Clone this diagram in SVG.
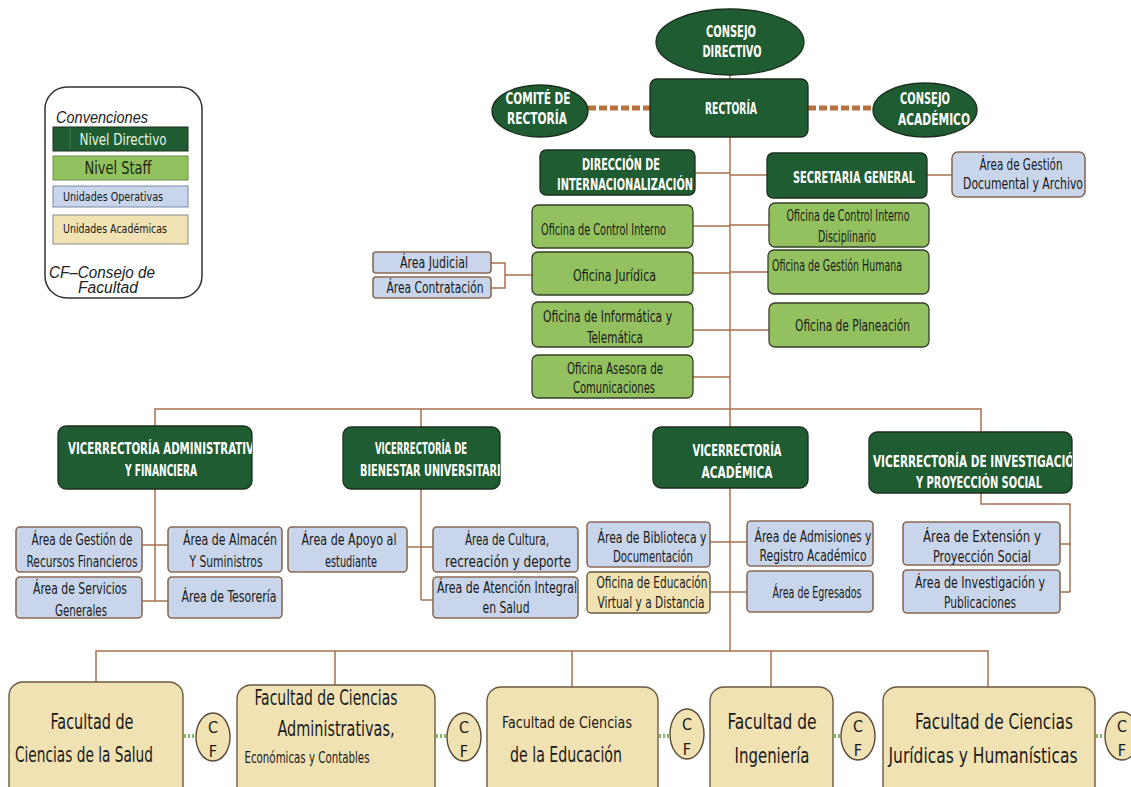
<svg xmlns="http://www.w3.org/2000/svg" width="1131" height="787" viewBox="0 0 1131 787">
<style>
text{font-family:"Liberation Sans Narrow","DejaVu Sans Condensed","Liberation Sans",sans-serif;}
.dir{fill:#1f5c32;stroke:#1c2e1e;stroke-width:1.3}
.staff{fill:#93c160;stroke:#34402a;stroke-width:1.3}
.op{fill:#c8d5ea;stroke:#8a6a55;stroke-width:1.6}
.ac{fill:#f1e2b4;stroke:#6b5a42;stroke-width:1.4}
.ln{stroke:#a8704e;stroke-width:1.5;fill:none}
.dash{stroke:#b8723e;stroke-width:5;stroke-dasharray:8 3;fill:none}
.dot{stroke:#7fbf5f;stroke-width:4;stroke-dasharray:2 2;fill:none}
.tw{fill:#ffffff;font-weight:bold;font-size:16px}
.tk{fill:#1a1a1a;font-size:15px}
.tf{fill:#1a1a1a;font-size:21px}
.cf{fill:#1a1a1a;font-size:16px}
.it{font-family:"Liberation Sans",Arial,sans-serif;font-style:italic;fill:#222}
</style>
<defs>
<clipPath id="cAdm"><rect x="58" y="426" width="194" height="63"/></clipPath>
<clipPath id="cBien"><rect x="343" y="427" width="157" height="62"/></clipPath>
<clipPath id="cInv"><rect x="869" y="432" width="203" height="61"/></clipPath>
</defs>
<rect width="1131" height="787" fill="#ffffff"/>

<g id="connectors">
<line class="ln" x1="730" y1="74" x2="730" y2="79"/>
<path class="ln" d="M730 137 V651"/>
<line class="dash" x1="588" y1="108" x2="650" y2="108"/>
<line class="dash" x1="808" y1="108" x2="873" y2="108"/>
<path class="ln" d="M695 173 H730 M730 175 H767 M927 175 H952"/>
<path class="ln" d="M693 226 H730 M730 225 H769 M693 273 H730 M730 272 H768 M693 330 H769 M693 377 H730"/>
<path class="ln" d="M491 263 H505 V288 H491 M505 275 H532"/>
<path class="ln" d="M155 426 V409 H981 V432 M421 409 V427"/>
<path class="ln" d="M155 489 V601 M142 545 H168 M142 601 H168"/>
<path class="ln" d="M421 489 V600 M407 547 H433 M421 600 H433"/>
<path class="ln" d="M710 542 H747 M710 592 H747"/>
<path class="ln" d="M981 493 V504 H1070 V592 M1060 544 H1070 M1060 592 H1070"/>
<path class="ln" d="M96 683 V651 H988 V687 M335 651 V685 M572 651 V687 M771 651 V687"/>
<line class="dot" x1="184" y1="736" x2="196" y2="736"/>
<line class="dot" x1="436" y1="736" x2="447" y2="736"/>
<line class="dot" x1="659" y1="736" x2="670" y2="736"/>
<line class="dot" x1="834" y1="736" x2="842" y2="736"/>
<line class="dot" x1="1096" y1="736" x2="1104" y2="736"/>
</g>

<g id="legend">
<rect x="45" y="87" width="157" height="211" rx="22" fill="#fff" stroke="#333" stroke-width="1.5"/>
<text class="it" x="56" y="123" font-size="17" textLength="92" lengthAdjust="spacingAndGlyphs">Convenciones</text>
<rect x="53" y="127" width="135" height="24" fill="#1f5c32" stroke="#1c2e1e"/>
<line x1="70" y1="128" x2="70" y2="150" stroke="#3d7a4c" stroke-width="1"/>
<text x="123" y="145" text-anchor="middle" fill="#e9f3e0" font-size="16" textLength="87" lengthAdjust="spacingAndGlyphs">Nivel Directivo</text>
<rect x="53" y="156" width="135" height="24" fill="#93c160" stroke="#6f8f4d"/>
<text x="118" y="174" text-anchor="middle" fill="#1a2a10" font-size="17" textLength="67" lengthAdjust="spacingAndGlyphs">Nivel Staff</text>
<rect x="53" y="186" width="135" height="21" fill="#c8d5ea" stroke="#7a8aa6"/>
<text x="113" y="201" text-anchor="middle" fill="#1a1a1a" font-size="13" textLength="100" lengthAdjust="spacingAndGlyphs">Unidades Operativas</text>
<rect x="53" y="215" width="135" height="29" fill="#f1e2b4" stroke="#8a8a8a"/>
<text x="115" y="233" text-anchor="middle" fill="#1a1a1a" font-size="13" textLength="104" lengthAdjust="spacingAndGlyphs">Unidades Académicas</text>
<text class="it" x="49" y="278" font-size="16" textLength="106" lengthAdjust="spacingAndGlyphs">CF–Consejo    de</text>
<text class="it" x="78" y="293" font-size="16" textLength="60" lengthAdjust="spacingAndGlyphs">Facultad</text>
</g>

<g id="consejo-directivo">
<ellipse cx="730" cy="42" rx="74" ry="33" class="dir"/>
<text class="tw" x="731" y="37" text-anchor="middle" textLength="50" lengthAdjust="spacingAndGlyphs">CONSEJO</text>
<text class="tw" x="732" y="57" text-anchor="middle" textLength="59" lengthAdjust="spacingAndGlyphs">DIRECTIVO</text>
</g>
<g id="rectoria">
<rect x="650" y="79" width="158" height="58" rx="7" class="dir"/>
<text class="tw" x="731" y="114" text-anchor="middle" textLength="52" lengthAdjust="spacingAndGlyphs">RECTORÍA</text>
</g>
<g id="comite-rectoria">
<ellipse cx="540" cy="111" rx="48" ry="26" class="dir"/>
<text class="tw" x="538" y="104" text-anchor="middle" textLength="65" lengthAdjust="spacingAndGlyphs">COMITÉ DE</text>
<text class="tw" x="537" y="124" text-anchor="middle" textLength="60" lengthAdjust="spacingAndGlyphs">RECTORÍA</text>
</g>
<g id="consejo-academico">
<ellipse cx="925" cy="110" rx="52" ry="27" class="dir"/>
<text class="tw" x="925" y="104" text-anchor="middle" textLength="50" lengthAdjust="spacingAndGlyphs">CONSEJO</text>
<text class="tw" x="934" y="125" text-anchor="middle" textLength="72" lengthAdjust="spacingAndGlyphs">ACADÉMICO</text>
</g>

<g id="direccion-internacionalizacion">
<rect x="540" y="150" width="155" height="45" rx="6" class="dir"/>
<text class="tw" x="621" y="170" text-anchor="middle" font-size="15" textLength="78" lengthAdjust="spacingAndGlyphs">DIRECCIÓN DE</text>
<text class="tw" x="625" y="190" text-anchor="middle" font-size="15" textLength="136" lengthAdjust="spacingAndGlyphs">INTERNACIONALIZACIÓN</text>
</g>
<g id="secretaria-general">
<rect x="767" y="153" width="160" height="45" rx="6" class="dir"/>
<text class="tw" x="854" y="183" text-anchor="middle" font-size="15" textLength="122" lengthAdjust="spacingAndGlyphs">SECRETARIA GENERAL</text>
</g>
<g id="area-gestion-documental">
<rect x="952" y="152" width="133" height="45" rx="6" class="op"/>
<text class="tk" x="1021" y="170" text-anchor="middle" textLength="83" lengthAdjust="spacingAndGlyphs">Área de Gestión</text>
<text class="tk" x="1023" y="189" text-anchor="middle" font-size="13" textLength="120" lengthAdjust="spacingAndGlyphs">Documental y Archivo</text>
</g>

<g id="oficina-control-interno">
<rect x="532" y="205" width="161" height="43" rx="6" class="staff"/>
<text class="tk" x="541" y="235" font-size="14" textLength="125" lengthAdjust="spacingAndGlyphs">Oficina de Control Interno</text>
</g>
<g id="oficina-juridica">
<rect x="532" y="252" width="161" height="43" rx="6" class="staff"/>
<text class="tk" x="573" y="281" textLength="83" lengthAdjust="spacingAndGlyphs">Oficina Jurídica</text>
</g>
<g id="oficina-informatica">
<rect x="532" y="302" width="161" height="45" rx="6" class="staff"/>
<text class="tk" x="543" y="322" textLength="129" lengthAdjust="spacingAndGlyphs">Oficina de Informática y</text>
<text class="tk" x="615" y="343" text-anchor="middle" textLength="56" lengthAdjust="spacingAndGlyphs">Telemática</text>
</g>
<g id="oficina-comunicaciones">
<rect x="532" y="355" width="161" height="43" rx="6" class="staff"/>
<text class="tk" x="615" y="374" text-anchor="middle" textLength="96" lengthAdjust="spacingAndGlyphs">Oficina Asesora de</text>
<text class="tk" x="614" y="393" text-anchor="middle" textLength="82" lengthAdjust="spacingAndGlyphs">Comunicaciones</text>
</g>
<g id="area-judicial">
<rect x="373" y="252" width="118" height="21" rx="3" class="op"/>
<text class="tk" x="434" y="268" text-anchor="middle" textLength="68" lengthAdjust="spacingAndGlyphs">Área Judicial</text>
</g>
<g id="area-contratacion">
<rect x="373" y="277" width="118" height="21" rx="3" class="op"/>
<text class="tk" x="435" y="293" text-anchor="middle" textLength="97" lengthAdjust="spacingAndGlyphs">Área Contratación</text>
</g>
<g id="oficina-control-disciplinario">
<rect x="769" y="203" width="160" height="44" rx="6" class="staff"/>
<text class="tk" x="848" y="221" text-anchor="middle" font-size="14" textLength="123" lengthAdjust="spacingAndGlyphs">Oficina de Control Interno</text>
<text class="tk" x="847" y="242" text-anchor="middle" textLength="58" lengthAdjust="spacingAndGlyphs">Disciplinario</text>
</g>
<g id="oficina-gestion-humana">
<rect x="768" y="250" width="161" height="44" rx="6" class="staff"/>
<text class="tk" x="772" y="271" font-size="14" textLength="130" lengthAdjust="spacingAndGlyphs">Oficina de Gestión Humana</text>
</g>
<g id="oficina-planeacion">
<rect x="769" y="303" width="160" height="44" rx="6" class="staff"/>
<text class="tk" x="795" y="331" font-size="16" textLength="115" lengthAdjust="spacingAndGlyphs">Oficina de Planeación</text>
</g>

<g id="vicerrectoria-administrativa">
<rect x="58" y="426" width="194" height="63" rx="8" class="dir"/>
<text class="tw" x="68" y="454" font-size="15" textLength="193" lengthAdjust="spacingAndGlyphs" clip-path="url(#cAdm)">VICERRECTORÍA ADMINISTRATIVA</text>
<text class="tw" x="161" y="476" text-anchor="middle" font-size="15" textLength="72" lengthAdjust="spacingAndGlyphs">Y FINANCIERA</text>
</g>
<g id="vicerrectoria-bienestar">
<rect x="343" y="427" width="157" height="62" rx="8" class="dir"/>
<text class="tw" x="421" y="454" text-anchor="middle" font-size="15" textLength="92" lengthAdjust="spacingAndGlyphs">VICERRECTORÍA DE</text>
<text class="tw" x="360" y="476" font-size="15" textLength="149" lengthAdjust="spacingAndGlyphs" clip-path="url(#cBien)">BIENESTAR UNIVERSITARIO</text>
</g>
<g id="vicerrectoria-academica">
<rect x="653" y="427" width="155" height="61" rx="8" class="dir"/>
<text class="tw" x="737" y="456" text-anchor="middle" font-size="15" textLength="89" lengthAdjust="spacingAndGlyphs">VICERRECTORÍA</text>
<text class="tw" x="737" y="478" text-anchor="middle" font-size="15" textLength="71" lengthAdjust="spacingAndGlyphs">ACADÉMICA</text>
</g>
<g id="vicerrectoria-investigacion">
<rect x="869" y="432" width="203" height="61" rx="8" class="dir"/>
<text class="tw" x="873" y="467" font-size="15" textLength="210" lengthAdjust="spacingAndGlyphs" clip-path="url(#cInv)">VICERRECTORÍA DE INVESTIGACIÓN</text>
<text class="tw" x="979" y="488" text-anchor="middle" font-size="15" textLength="126" lengthAdjust="spacingAndGlyphs">Y PROYECCIÓN  SOCIAL</text>
</g>

<g id="area-recursos-financieros">
<rect x="16" y="527" width="126" height="45" rx="4" class="op"/>
<text class="tk" x="82" y="545" text-anchor="middle" textLength="101" lengthAdjust="spacingAndGlyphs">Área de Gestión de</text>
<text class="tk" x="82" y="567" text-anchor="middle" textLength="111" lengthAdjust="spacingAndGlyphs">Recursos Financieros</text>
</g>
<g id="area-servicios-generales">
<rect x="16" y="577" width="126" height="41" rx="4" class="op"/>
<text class="tk" x="80" y="594" text-anchor="middle" textLength="94" lengthAdjust="spacingAndGlyphs">Área de Servicios</text>
<text class="tk" x="81" y="616" text-anchor="middle" textLength="52" lengthAdjust="spacingAndGlyphs">Generales</text>
</g>
<g id="area-almacen">
<rect x="168" y="527" width="114" height="45" rx="4" class="op"/>
<text class="tk" x="230" y="545" text-anchor="middle" textLength="94" lengthAdjust="spacingAndGlyphs">Área de Almacén</text>
<text class="tk" x="226" y="567" text-anchor="middle" textLength="73" lengthAdjust="spacingAndGlyphs">Y Suministros</text>
</g>
<g id="area-tesoreria">
<rect x="168" y="577" width="114" height="41" rx="4" class="op"/>
<text class="tk" x="229" y="602" text-anchor="middle" textLength="95" lengthAdjust="spacingAndGlyphs">Área de Tesorería</text>
</g>
<g id="area-apoyo-estudiante">
<rect x="288" y="527" width="119" height="45" rx="4" class="op"/>
<text class="tk" x="349" y="545" text-anchor="middle" textLength="95" lengthAdjust="spacingAndGlyphs">Área de Apoyo al</text>
<text class="tk" x="351" y="567" text-anchor="middle" textLength="52" lengthAdjust="spacingAndGlyphs">estudiante</text>
</g>
<g id="area-cultura">
<rect x="433" y="527" width="145" height="45" rx="4" class="op"/>
<text class="tk" x="507" y="545" text-anchor="middle" textLength="84" lengthAdjust="spacingAndGlyphs">Área de Cultura,</text>
<text class="tk" x="508" y="567" text-anchor="middle" textLength="126" lengthAdjust="spacingAndGlyphs">recreación y deporte</text>
</g>
<g id="area-atencion-salud">
<rect x="433" y="577" width="145" height="41" rx="4" class="op"/>
<text class="tk" x="507" y="593" text-anchor="middle" textLength="140" lengthAdjust="spacingAndGlyphs">Área de Atención Integral</text>
<text class="tk" x="506" y="613" text-anchor="middle" textLength="47" lengthAdjust="spacingAndGlyphs">en Salud</text>
</g>
<g id="area-biblioteca">
<rect x="587" y="522" width="123" height="45" rx="4" class="op"/>
<text class="tk" x="652" y="543" text-anchor="middle" textLength="109" lengthAdjust="spacingAndGlyphs">Área de Biblioteca y</text>
<text class="tk" x="653" y="562" text-anchor="middle" textLength="80" lengthAdjust="spacingAndGlyphs">Documentación</text>
</g>
<g id="oficina-educacion-virtual">
<rect x="587" y="572" width="123" height="41" rx="4" class="ac"/>
<text class="tk" x="652" y="588" text-anchor="middle" textLength="111" lengthAdjust="spacingAndGlyphs">Oficina de Educación</text>
<text class="tk" x="651" y="608" text-anchor="middle" textLength="107" lengthAdjust="spacingAndGlyphs">Virtual y a Distancia</text>
</g>
<g id="area-admisiones">
<rect x="747" y="521" width="126" height="45" rx="4" class="op"/>
<text class="tk" x="813" y="542" text-anchor="middle" textLength="117" lengthAdjust="spacingAndGlyphs">Área de Admisiones y</text>
<text class="tk" x="813" y="561" text-anchor="middle" textLength="107" lengthAdjust="spacingAndGlyphs">Registro Académico</text>
</g>
<g id="area-egresados">
<rect x="747" y="571" width="126" height="41" rx="4" class="op"/>
<text class="tk" x="817" y="598" text-anchor="middle" textLength="89" lengthAdjust="spacingAndGlyphs">Área de Egresados</text>
</g>
<g id="area-extension">
<rect x="903" y="522" width="157" height="43" rx="4" class="op"/>
<text class="tk" x="982" y="542" text-anchor="middle" textLength="118" lengthAdjust="spacingAndGlyphs">Área de Extensión y</text>
<text class="tk" x="982" y="562" text-anchor="middle" textLength="98" lengthAdjust="spacingAndGlyphs">Proyección Social</text>
</g>
<g id="area-investigacion-publicaciones">
<rect x="903" y="570" width="157" height="43" rx="4" class="op"/>
<text class="tk" x="980" y="588" text-anchor="middle" textLength="130" lengthAdjust="spacingAndGlyphs">Área de Investigación y</text>
<text class="tk" x="980" y="608" text-anchor="middle" textLength="72" lengthAdjust="spacingAndGlyphs">Publicaciones</text>
</g>

<g id="facultad-salud">
<rect x="9" y="682" width="174" height="125" rx="14" class="ac"/>
<text class="tf" x="92" y="729" text-anchor="middle" textLength="83" lengthAdjust="spacingAndGlyphs">Facultad de</text>
<text class="tf" x="84" y="762" text-anchor="middle" textLength="138" lengthAdjust="spacingAndGlyphs">Ciencias de la Salud</text>
</g>
<g id="cf-salud">
<ellipse cx="213" cy="737" rx="17" ry="24" fill="#f1e2b4" stroke="#5a4a38" stroke-width="1.4"/>
<text class="cf" x="213" y="733" text-anchor="middle">C</text>
<text class="cf" x="213" y="757" text-anchor="middle">F</text>
</g>
<g id="facultad-administrativas">
<rect x="237" y="685" width="198" height="122" rx="14" class="ac"/>
<text class="tf" x="326" y="705" text-anchor="middle" font-size="20" textLength="143" lengthAdjust="spacingAndGlyphs">Facultad de Ciencias</text>
<text class="tf" x="336" y="736" text-anchor="middle" font-size="20" textLength="117" lengthAdjust="spacingAndGlyphs">Administrativas,</text>
<text class="tk" x="307" y="763" text-anchor="middle" font-size="16" textLength="125" lengthAdjust="spacingAndGlyphs">Económicas y Contables</text>
</g>
<g id="cf-administrativas">
<ellipse cx="464" cy="737" rx="17" ry="24" fill="#f1e2b4" stroke="#5a4a38" stroke-width="1.4"/>
<text class="cf" x="464" y="733" text-anchor="middle">C</text>
<text class="cf" x="464" y="757" text-anchor="middle">F</text>
</g>
<g id="facultad-educacion">
<rect x="487" y="687" width="171" height="120" rx="14" class="ac"/>
<text class="tk" x="567" y="728" text-anchor="middle" font-size="18" textLength="130" lengthAdjust="spacingAndGlyphs">Facultad de Ciencias</text>
<text class="tf" x="566" y="762" text-anchor="middle" font-size="20" textLength="112" lengthAdjust="spacingAndGlyphs">de la Educación</text>
</g>
<g id="cf-educacion">
<ellipse cx="687" cy="734" rx="17" ry="25" fill="#f1e2b4" stroke="#5a4a38" stroke-width="1.4"/>
<text class="cf" x="687" y="730" text-anchor="middle">C</text>
<text class="cf" x="687" y="755" text-anchor="middle">F</text>
</g>
<g id="facultad-ingenieria">
<rect x="710" y="687" width="123" height="120" rx="14" class="ac"/>
<text class="tf" x="772" y="729" text-anchor="middle" font-size="22" textLength="89" lengthAdjust="spacingAndGlyphs">Facultad de</text>
<text class="tf" x="772" y="763" text-anchor="middle" font-size="22" textLength="75" lengthAdjust="spacingAndGlyphs">Ingeniería</text>
</g>
<g id="cf-ingenieria">
<ellipse cx="858" cy="736" rx="17" ry="24" fill="#f1e2b4" stroke="#5a4a38" stroke-width="1.4"/>
<text class="cf" x="858" y="732" text-anchor="middle">C</text>
<text class="cf" x="858" y="756" text-anchor="middle">F</text>
</g>
<g id="facultad-juridicas">
<rect x="883" y="687" width="212" height="120" rx="14" class="ac"/>
<text class="tf" x="994" y="729" text-anchor="middle" font-size="22" textLength="158" lengthAdjust="spacingAndGlyphs">Facultad de Ciencias</text>
<text class="tf" x="983" y="763" text-anchor="middle" font-size="22" textLength="189" lengthAdjust="spacingAndGlyphs">Jurídicas y Humanísticas</text>
</g>
<g id="cf-juridicas">
<ellipse cx="1122" cy="736" rx="17" ry="24" fill="#f1e2b4" stroke="#5a4a38" stroke-width="1.4"/>
<text class="cf" x="1122" y="732" text-anchor="middle">C</text>
<text class="cf" x="1122" y="756" text-anchor="middle">F</text>
</g>
</svg>
